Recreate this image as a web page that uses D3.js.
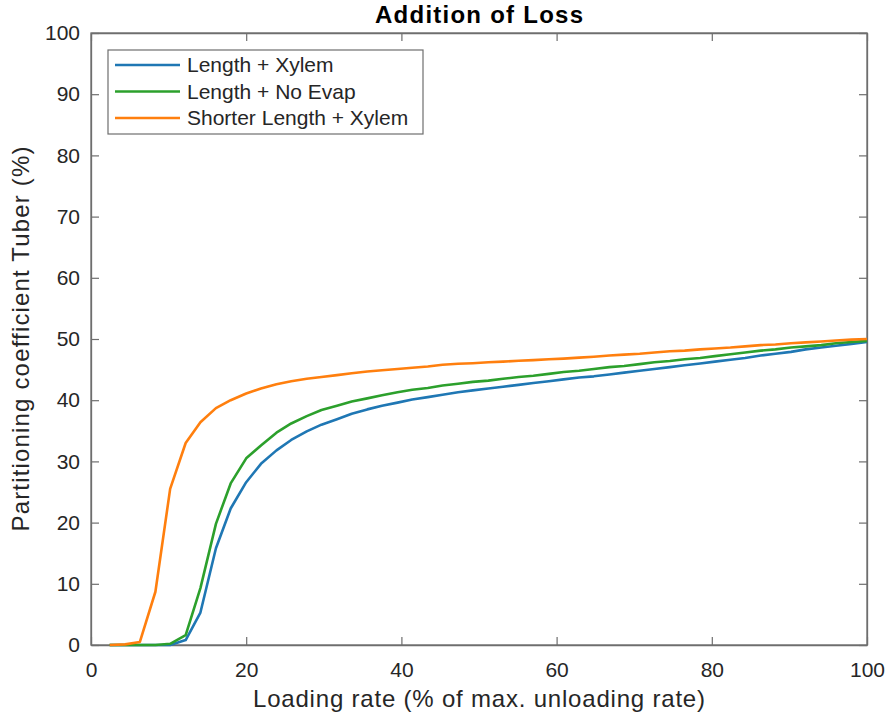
<!DOCTYPE html>
<html><head><meta charset="utf-8">
<script src="https://cdn.jsdelivr.net/npm/d3@7"></script>
<style>body{margin:0;background:#fff;}svg{display:block;font-family:"Liberation Sans",Arial,Helvetica,sans-serif;}</style>
</head><body>
<svg id="chart" width="894" height="719"></svg>
<script>
const loadingRate = [2.4,4.4,6.3,8.3,10.2,12.2,14.1,16.1,18.0,20.0,21.9,23.9,25.8,27.8,29.7,31.7,33.6,35.6,37.5,39.5,41.4,43.4,45.3,47.3,49.2,51.2,53.1,55.1,57.0,59.0,60.9,62.9,64.8,66.8,68.7,70.7,72.6,74.6,76.5,78.5,80.4,82.4,84.3,86.3,88.2,90.2,92.1,94.1,96.0,98.0,100];
const lengthXylem = [0,0,0,0,0,0.8,5.3,15.8,22.3,26.6,29.6,31.8,33.5,34.9,36.0,36.9,37.8,38.5,39.1,39.6,40.1,40.5,40.9,41.3,41.6,41.9,42.2,42.5,42.8,43.1,43.4,43.7,43.9,44.2,44.5,44.8,45.1,45.4,45.7,46.0,46.3,46.6,46.9,47.3,47.6,47.9,48.3,48.6,48.9,49.2,49.5];
const lengthNoEvap = [0,0,0,0,0.2,1.6,9.3,19.8,26.4,30.5,32.6,34.7,36.2,37.4,38.4,39.1,39.8,40.3,40.8,41.3,41.7,42.0,42.4,42.7,43.0,43.2,43.5,43.8,44.0,44.3,44.6,44.8,45.1,45.4,45.6,45.9,46.2,46.4,46.7,46.9,47.2,47.5,47.8,48.1,48.3,48.6,48.8,49.0,49.3,49.5,49.7];
const shorterLengthXylem = [0,0.1,0.5,8.7,25.5,33.0,36.4,38.7,40.0,41.1,41.9,42.6,43.1,43.5,43.8,44.1,44.4,44.7,44.9,45.1,45.3,45.5,45.8,45.95,46.05,46.2,46.3,46.45,46.55,46.7,46.8,46.95,47.1,47.3,47.45,47.6,47.8,48.0,48.1,48.3,48.45,48.6,48.8,49.0,49.1,49.3,49.45,49.6,49.75,49.9,50.0];
const seriesNames = ["Length + Xylem","Length + No Evap","Shorter Length + Xylem"];
const seriesColors = ["#1f77b4","#2ca02c","#ff7f0e"];
const xTicks = [0,20,40,60,80,100];
const yTicks = [0,10,20,30,40,50,60,70,80,90,100];

const svg = d3.select("#chart");
const L = 91, R = 867, T = 33, B = 645;
const x = d3.scaleLinear().domain([0,100]).range([L,R]);
const y = d3.scaleLinear().domain([0,100]).range([B,T]);
const textCol = "#262626";
const lineCol = "#6e6e6e";

svg.append("rect").attr("x",L).attr("y",T).attr("width",R-L).attr("height",B-T)
  .attr("fill","none").attr("stroke",lineCol).attr("stroke-width",1.3);

const xb = svg.append("g").attr("transform",`translate(0,${B})`)
  .call(d3.axisBottom(x).tickValues(xTicks).tickSizeInner(-8).tickSizeOuter(0));
const xt = svg.append("g").attr("transform",`translate(0,${T})`)
  .call(d3.axisTop(x).tickValues(xTicks).tickSizeInner(-8).tickSizeOuter(0).tickFormat(""));
const yl = svg.append("g").attr("transform",`translate(${L},0)`)
  .call(d3.axisLeft(y).tickValues(yTicks).tickSizeInner(-8).tickSizeOuter(0).tickPadding(11));
const yr = svg.append("g").attr("transform",`translate(${R},0)`)
  .call(d3.axisRight(y).tickValues(yTicks).tickSizeInner(-8).tickSizeOuter(0).tickFormat(""));
[xb,xt,yl,yr].forEach(g=>{
  g.select(".domain").attr("stroke",lineCol).attr("stroke-width",1.3);
  g.selectAll(".tick line").attr("stroke",lineCol).attr("stroke-width",1.2);
  g.selectAll(".tick text").attr("fill",textCol).style("font-size","21px")
    .style("font-family","'Liberation Sans',Arial,sans-serif");
});
xb.selectAll(".tick text").attr("dy","0").attr("y",32);

const line = d3.line().x((d,i)=>x(loadingRate[i])).y(d=>y(d));
const allSeries = [lengthXylem, lengthNoEvap, shorterLengthXylem];
allSeries.forEach((s,i)=>{
  svg.append("path").datum(s).attr("d",line).attr("fill","none")
    .attr("stroke",seriesColors[i]).attr("stroke-width",2.6).attr("stroke-linejoin","round");
});

svg.append("text").attr("x",(L+R)/2).attr("y",23).attr("text-anchor","middle")
  .attr("fill","#000").style("font-size","24px").style("font-weight","bold")
  .attr("textLength",208).attr("lengthAdjust","spacing").text("Addition of Loss");

svg.append("text").attr("x",(L+R)/2).attr("y",707).attr("text-anchor","middle")
  .attr("fill",textCol).style("font-size","24px")
  .attr("textLength",452).attr("lengthAdjust","spacing").text("Loading rate (% of max. unloading rate)");
svg.append("text").attr("transform",`translate(29,${(T+B)/2}) rotate(-90)`).attr("text-anchor","middle")
  .attr("fill",textCol).style("font-size","24px")
  .attr("textLength",385).attr("lengthAdjust","spacing").text("Partitioning coefficient Tuber (%)");

const lg = svg.append("g");
lg.append("rect").attr("x",108).attr("y",50).attr("width",315).attr("height",84)
  .attr("fill","#fff").attr("stroke",lineCol).attr("stroke-width",1.2);
seriesNames.forEach((n,i)=>{
  const yy = 65 + i*26.5;
  lg.append("line").attr("x1",115).attr("x2",180).attr("y1",yy).attr("y2",yy)
    .attr("stroke",seriesColors[i]).attr("stroke-width",2.6);
  lg.append("text").attr("x",187).attr("y",yy).attr("dy","0.35em").attr("fill",textCol)
    .style("font-size","21px").text(n);
});
</script>
</body></html>
